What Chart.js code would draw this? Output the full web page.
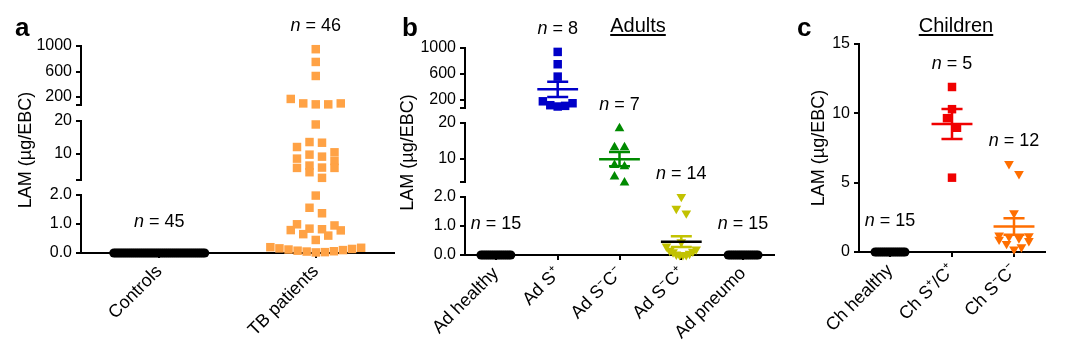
<!DOCTYPE html>
<html lang="en">
<head>
<meta charset="utf-8">
<title>LAM in exhaled breath condensate</title>
<script src="https://cdn.jsdelivr.net/npm/chart.js@4.4.1/dist/chart.umd.min.js"></script>
<style>
  html, body { margin: 0; padding: 0; background: #fff; }
  #wrap { position: relative; width: 1080px; height: 354px; overflow: hidden;
          font-family: "Liberation Sans", Arial, Helvetica, sans-serif; color: #000; }
  canvas { position: absolute; top: 0; }
  .tag { position: absolute; top: 14px; font-size: 26px; font-weight: bold; line-height: 1; }
  .head { position: absolute; top: 15px; font-size: 20px; line-height: 1; text-decoration: underline;
          text-underline-offset: 2px; transform: translateX(-50%); white-space: nowrap; }
</style>
</head>
<body>
<div id="wrap">
  <canvas id="panelA" width="400" height="354" style="left:0px"></canvas>
  <canvas id="panelB" width="392" height="354" style="left:388px"></canvas>
  <canvas id="panelC" width="290" height="354" style="left:790px"></canvas>
  <div class="tag" style="left:15px">a</div>
  <div class="tag" style="left:402px">b</div>
  <div class="tag" style="left:797px">c</div>
  <div class="head" style="left:638px">Adults</div>
  <div class="head" style="left:956px">Children</div>
</div>
<script>
// values (LAM, µg/EBC)
const catsA = ['Controls', 'TB patients'];
const lamControls = [0, 0, 0, 0, 0, 0, 0, 0, 0, 0, 0, 0, 0, 0, 0, 0, 0, 0, 0, 0, 0, 0, 0,
  0, 0, 0, 0, 0, 0, 0, 0, 0, 0, 0, 0, 0, 0, 0, 0, 0, 0, 0, 0, 0, 0];
const lamTB = [950, 750, 530, 170, 100, 100, 85, 85,
  18.8, 13.5, 13.3, 12, 10.4, 9.7, 9.1, 8.5, 7.8, 6.4, 5.8, 5.7, 5.7, 4.4, 2.7,
  1.98, 1.56, 1.37, 0.99, 0.95, 0.84, 0.82, 0.79, 0.78, 0.65, 0.6, 0.45,
  0.2, 0.18, 0.16, 0.14, 0.12, 0.1, 0.08, 0.06, 0.05, 0.03, 0.02];

const catsB = ['Ad healthy', 'Ad S\u207A', 'Ad S\u207BC\u207B', 'Ad S\u207BC\u207A', 'Ad pneumo'];
const lamAdHealthy = [0, 0, 0, 0, 0, 0, 0, 0, 0, 0, 0, 0, 0, 0, 0];
const lamAdSpos = [940, 750, 560, 180, 150, 120, 110, 100];
const lamAdSnegCneg = [18.5, 13.2, 13.2, 8.3, 7.9, 5.1, 3.4];
const lamAdSnegCpos = [2.01, 1.6, 1.44, 0.45, 0.3, 0.2, 0.15, 0.12, 0.1, 0.05, 0.02, 0, 0, 0];
const lamAdPneumo = [0, 0, 0, 0, 0, 0, 0, 0, 0, 0, 0, 0, 0, 0, 0];

const catsC = ['Ch healthy', 'Ch S\u207A/C\u207A', 'Ch S\u207BC\u207B'];
const lamChHealthy = [0, 0, 0, 0, 0, 0, 0, 0, 0, 0, 0, 0, 0, 0, 0];
const lamChSposCpos = [11.9, 10.3, 9.65, 8.96, 5.36];
const lamChSnegCneg = [6.36, 5.64, 2.8, 1.2, 1.15, 1.1, 1.0, 0.9, 0.8, 0.6, 0.35, 0.2];

// tick labels
const ticksHigh = [200, 600, 1000];
const ticksMid = [10, 20];
const ticksLow = [0, 1, 2];
const ticksC = [0, 5, 10, 15];

const FONT = '"Liberation Sans", Arial, Helvetica, sans-serif';
Chart.defaults.font.family = FONT;
Chart.defaults.color = '#000';

const sq = { shape: 'rect', r: 6, rot: 0 };
const up = { shape: 'triangle', r: 5.6, rot: 0 };
const down = { shape: 'triangle', r: 5.6, rot: 180 };
const dot = { shape: 'circle', r: 4.6, rot: 0 };

function mean(a) { return a.reduce((s, v) => s + v, 0) / a.length; }
function sem(a) {
  const m = mean(a);
  return Math.sqrt(a.reduce((s, v) => s + (v - m) * (v - m), 0) / (a.length - 1) / a.length);
}

// broken axis: which segment (top -> bottom) a value is drawn in
function pickSeg(v, segs) {
  for (let i = 0; i < segs.length - 1; i++) {
    if (v > (segs[i].min + segs[i + 1].max) / 2) return segs[i];
  }
  return segs[segs.length - 1];
}

// column scatter: spread points of a group sideways, row by row
function swarm(spread, maxStep) {
  return {
    id: 'swarm',
    afterDatasetsUpdate(chart) {
      const xs = chart.scales.x;
      const maxW = spread * (xs.getPixelForValue(1) - xs.getPixelForValue(0));
      const groups = {};
      chart.data.datasets.forEach((ds, i) => {
        if (ds.swarm === undefined) return;
        (groups[ds.swarm] = groups[ds.swarm] || []).push(...chart.getDatasetMeta(i).data);
      });
      Object.values(groups).forEach(pts => {
        pts.sort((a, b) => b.y - a.y);
        let row = [];
        const flush = () => {
          const n = row.length;
          const step = n > 1 ? Math.min(maxStep, maxW / (n - 1)) : 0;
          const slots = row.map((_, k) => k - (n - 1) / 2)
            .sort((p, q) => Math.abs(p) - Math.abs(q) || q - p);
          row.forEach((el, k) => { el.x += slots[k] * step; });
          row = [];
        };
        pts.forEach(el => {
          if (row.length && row[0].y - el.y >= 10) flush();
          row.push(el);
        });
        if (row.length) flush();
      });
    }
  };
}

function nLabels(groups, segs) {
  return {
    id: 'nLabels',
    afterDraw(chart) {
      const ctx = chart.ctx, xs = chart.scales.x;
      groups.forEach((g, gi) => {
        const top = Math.max(...g.values);
        const ys = chart.scales[pickSeg(top, segs).id];
        const x = xs.getPixelForValue(gi);
        const y = ys.getPixelForValue(top) - (top > 0 ? 23 : 31);
        const rest = ' = ' + g.values.length;
        ctx.save();
        ctx.textBaseline = 'middle';
        ctx.textAlign = 'left';
        ctx.fillStyle = '#000';
        ctx.font = 'italic 18px ' + FONT;
        const wn = ctx.measureText('n').width;
        ctx.font = '18px ' + FONT;
        const wr = ctx.measureText(rest).width;
        const x0 = x - (wn + wr) / 2;
        ctx.font = 'italic 18px ' + FONT;
        ctx.fillText('n', x0, y);
        ctx.font = '18px ' + FONT;
        ctx.fillText(rest, x0 + wn, y);
        ctx.restore();
      });
    }
  };
}

function makePanel(id, cats, groups, segs, box) {
  const datasets = [];
  groups.forEach((g, gi) => {
    segs.forEach(seg => {
      const pts = g.values.filter(v => pickSeg(v, segs) === seg).map(v => ({ x: gi, y: v }));
      if (!pts.length) return;
      datasets.push({
        type: 'scatter', data: pts, yAxisID: seg.id, swarm: gi, order: 2, clip: false,
        pointStyle: g.mark.shape, pointRadius: g.mark.r, pointRotation: g.mark.rot,
        backgroundColor: g.color, borderWidth: 0
      });
    });
    if (g.mean) {
      const m = mean(g.values), e = sem(g.values);
      const yid = pickSeg(m, segs).id;
      datasets.push({
        type: 'line', yAxisID: yid, order: 0, clip: false, pointRadius: 0,
        borderColor: g.mean, borderWidth: 2.5,
        data: [{ x: gi - 0.33, y: m }, { x: gi + 0.33, y: m }]
      });
      datasets.push({
        type: 'line', yAxisID: yid, order: 1, clip: false, pointRadius: 0, spanGaps: false,
        borderColor: g.sem, borderWidth: 2.5,
        data: [{ x: gi - 0.17, y: m + e }, { x: gi + 0.17, y: m + e }, { x: gi, y: null },
               { x: gi, y: m + e }, { x: gi, y: m - e }, { x: gi, y: null },
               { x: gi - 0.17, y: m - e }, { x: gi + 0.17, y: m - e }]
      });
    }
  });

  const border = { display: true, color: '#000', width: 2 };
  const grid = { display: true, drawOnChartArea: false, drawTicks: true, tickLength: 5,
                 tickWidth: 2, tickColor: '#000', color: '#000', lineWidth: 2 };
  const scales = {
    x: {
      type: 'linear', min: -0.5, max: cats.length - 0.5,
      afterBuildTicks: s => { s.ticks = cats.map((c, i) => ({ value: i })); },
      afterFit: s => { s.height = box.xh; },
      ticks: { autoSkip: false, minRotation: 45, maxRotation: 45, padding: 3,
               font: { size: 18 }, color: '#000', callback: v => cats[v] },
      grid, border
    }
  };
  let w = 20;
  segs.forEach((seg, si) => {
    if (si > 0) {
      scales['yGap' + si] = { type: 'linear', position: 'left', display: false, stack: 'lam',
                              stackWeight: box.gap, weight: w--, min: 0, max: 1 };
    }
    scales[seg.id] = {
      type: 'linear', position: 'left', stack: 'lam', stackWeight: seg.weight, weight: w--,
      min: seg.min, max: seg.max,
      afterBuildTicks: s => { s.ticks = seg.ticks.map(v => ({ value: v })); },
      afterFit: s => { s.width = box.yw; },
      ticks: { autoSkip: false, padding: 4, font: { size: 16 }, color: '#000',
               callback: v => seg.labels.includes(v) ? seg.fmt(v) : '' },
      grid, border,
      title: { display: si === box.titleSeg, text: 'LAM (\u00B5g/EBC)', color: '#000',
               font: { size: 18 }, padding: { top: box.tp, bottom: 0 } }
    };
  });

  return new Chart(document.getElementById(id), {
    type: 'scatter',
    data: { datasets },
    options: {
      responsive: false, animation: false, events: [],
      layout: { padding: { left: 0, top: box.top, right: box.right, bottom: 0 } },
      plugins: { legend: { display: false }, tooltip: { enabled: false } },
      scales
    },
    plugins: [swarm(box.spread, box.step), nLabels(groups, segs)]
  });
}

const fmt1 = v => v.toFixed(1);
const fmt0 = v => String(v);

makePanel('panelA', catsA, [
  { values: lamControls, color: '#000000', mark: dot },
  { values: lamTB, color: '#FFA245', mark: sq }
], [
  { id: 'yHigh', min: 75, max: 1000, ticks: [75, ...ticksHigh], labels: ticksHigh, fmt: fmt0, weight: 59 },
  { id: 'yMid', min: 2.2, max: 20, ticks: [2.2, ...ticksMid], labels: ticksMid, fmt: fmt0, weight: 59 },
  { id: 'yLow', min: 0, max: 2, ticks: ticksLow, labels: ticksLow, fmt: fmt1, weight: 58 }
], { top: 46, right: 5, xh: 101, yw: 81, tp: 15, gap: 15.5, titleSeg: 1, spread: 0.58, step: 12.5 });

makePanel('panelB', catsB, [
  { values: lamAdHealthy, color: '#000000', mark: dot },
  { values: lamAdSpos, color: '#0000C8', mark: sq, mean: '#0000C8', sem: '#0000C8' },
  { values: lamAdSnegCneg, color: '#008A00', mark: up, mean: '#008A00', sem: '#008A00' },
  { values: lamAdSnegCpos, color: '#C2C200', mark: down, mean: '#000000', sem: '#C2C200' },
  { values: lamAdPneumo, color: '#000000', mark: dot }
], [
  { id: 'yHigh', min: 77, max: 1000, ticks: [77, ...ticksHigh], labels: ticksHigh, fmt: fmt0, weight: 60 },
  { id: 'yMid', min: 3.6, max: 20, ticks: [3.6, ...ticksMid], labels: ticksMid, fmt: fmt0, weight: 59 },
  { id: 'yLow', min: 0, max: 2, ticks: ticksLow, labels: ticksLow, fmt: fmt1, weight: 58 }
], { top: 48, right: 6, xh: 99, yw: 77, tp: 9, gap: 15, titleSeg: 1, spread: 0.48, step: 10 });

makePanel('panelC', catsC, [
  { values: lamChHealthy, color: '#000000', mark: dot },
  { values: lamChSposCpos, color: '#F00000', mark: sq, mean: '#F00000', sem: '#F00000' },
  { values: lamChSnegCneg, color: '#FF6E00', mark: down, mean: '#FF6E00', sem: '#FF6E00' }
], [
  { id: 'y', min: 0, max: 15, ticks: ticksC, labels: ticksC, fmt: fmt0, weight: 1 }
], { top: 44, right: 35, xh: 102, yw: 69, tp: 18, gap: 1, titleSeg: 0, spread: 0.48, step: 10 });
</script>
</body>
</html>
